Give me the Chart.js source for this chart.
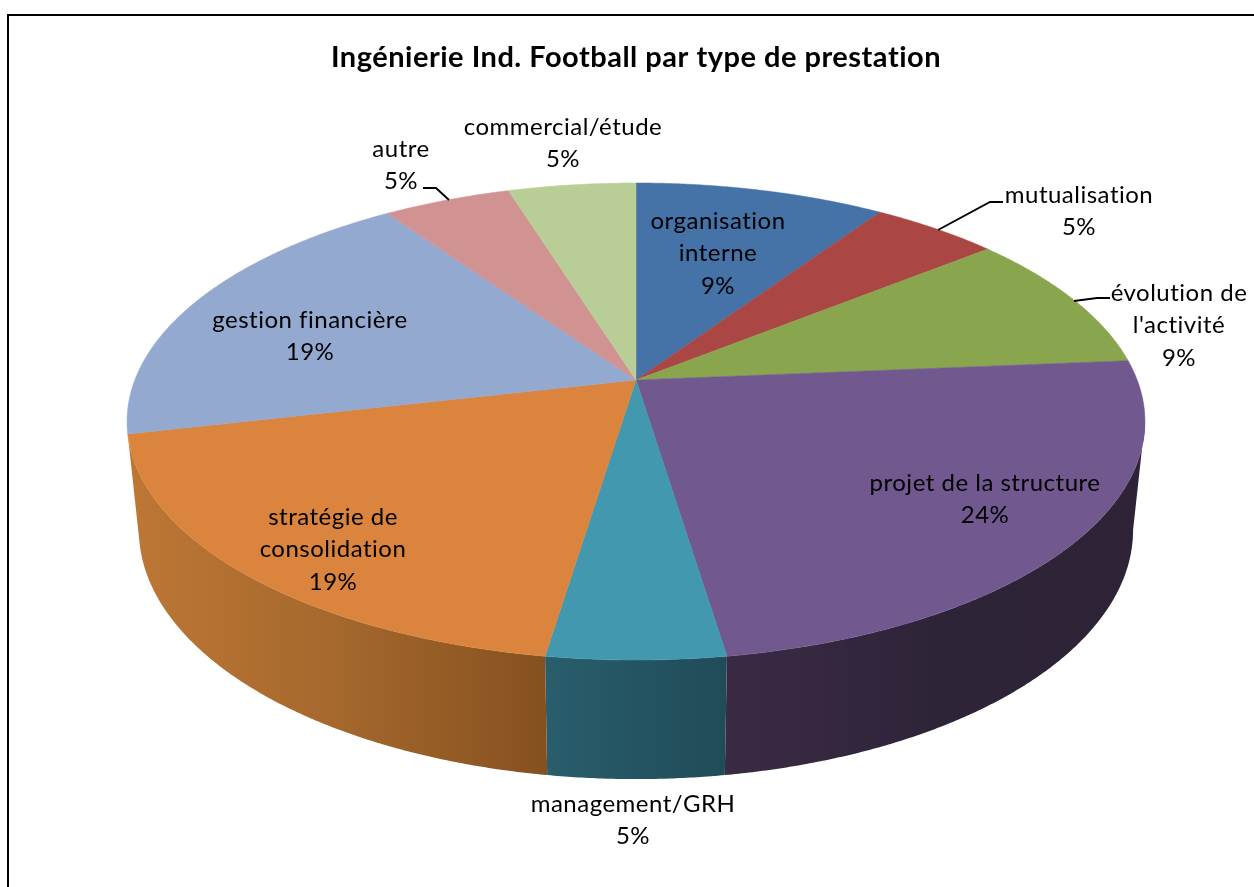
<!DOCTYPE html>
<html lang="fr">
<head>
<meta charset="utf-8">
<title>Ingénierie Ind. Football par type de prestation</title>
<style>html,body{margin:0;padding:0;background:#fff}canvas{display:block}</style>
<script src="https://cdn.jsdelivr.net/npm/chart.js@4/dist/chart.umd.js"></script>
</head>
<body>
<canvas id="c" width="1254" height="887"></canvas>
<script>
// ---- data ----
const titleText = "Ingénierie Ind. Football par type de prestation";
const categories = ["organisation interne", "mutualisation", "évolution de l'activité", "projet de la structure", "management/GRH", "stratégie de consolidation", "gestion financière", "autre", "commercial/étude"];
const shares = [9.4, 4.8, 9.45, 23.95, 4.8, 19, 19, 4.8, 4.8];

// ---- styles ----
const topColors = ["#4572A7", "#AA4643", "#89A54E", "#71588F", "#4198AF", "#DB843D", "#93A9CF", "#D19392", "#B9CD96"];
const wallColors = [null, null, null, ["#3A2B44", "#2E2438", "#2D2236"], ["#2A5E6C", "#245462", "#214B58"], ["#BD7735", "#A5682D", "#85501F"], null, null, null];
const FONT = '24px Lato';
const labelLines = [["organisation", "interne"], ["mutualisation"], ["évolution de", "l'activité"], ["projet de la structure"], ["management/GRH"], ["stratégie de", "consolidation"], ["gestion financière"], ["autre"], ["commercial/étude"]];
const labelAnchors = [[718, 221], [1079, 195], [1179, 293], [985, 483], [633, 804], [333, 517], [310, 320], [401, 149], [563, 127]];
const lineGap = 32.5;
const leaderLines = [[[423, 188], [436, 188], [449, 200]], [[1003, 202], [990, 202], [938, 230]], [[1110, 298], [1097, 298], [1074, 301]]];

// ---- perspective of the tilted disc ----
const P = 0.174;
const topFace = {cx: 636, cy: 380, a: 501.2, b: 231.3};
const floorFace = {cx: 636, cy: 486.7, a: 489.5, b: 241.5};
const nearFrom = Math.acos(-P), nearTo = 2 * Math.PI - nearFrom;
function project(face, theta) {
  const x = Math.sin(theta), y = -Math.cos(theta), w = 1 - P * y;
  return [face.cx + face.a * x / w, face.cy + face.b * y / w];
}
function arcPoints(face, t0, t1) {
  const n = Math.max(2, Math.ceil(Math.abs(t1 - t0) / 0.006)), pts = [];
  for (let i = 0; i <= n; i++) pts.push(project(face, t0 + (t1 - t0) * i / n));
  return pts;
}
function trace(ctx, pts) {
  ctx.beginPath();
  pts.forEach((p, i) => i ? ctx.lineTo(p[0], p[1]) : ctx.moveTo(p[0], p[1]));
  ctx.closePath();
}

const pie3d = {
  id: 'pie3d',
  beforeDraw(chart) {
    const ctx = chart.ctx;
    ctx.letterSpacing = '0.5px';
    ctx.save();
    ctx.fillStyle = '#fff';
    ctx.fillRect(0, 0, chart.width, chart.height);
    ctx.fillStyle = '#000';
    ctx.fillRect(7, 14, chart.width - 7, 2);
    ctx.fillRect(7, 14, 2, chart.height - 14);
    ctx.restore();
  },
  beforeDatasetDraw(chart, args) {
    const ctx = chart.ctx, arcs = args.meta.data;
    const turn = a => a + Math.PI / 2;
    ctx.save();
    // side walls, only on the near part of the disc
    arcs.forEach((arc, i) => {
      if (!wallColors[i]) return;
      const t0 = Math.max(turn(arc.startAngle), nearFrom);
      const t1 = Math.min(turn(arc.endAngle), nearTo);
      if (t1 <= t0) return;
      const all = arcPoints(topFace, t0, t1).concat(arcPoints(floorFace, t1, t0));
      const xs = all.map(p => p[0]);
      const g = ctx.createLinearGradient(Math.min(...xs), 0, Math.max(...xs), 0);
      wallColors[i].forEach((c, k, list) => g.addColorStop(k / (list.length - 1), c));
      trace(ctx, all);
      ctx.fillStyle = g;
      ctx.fill();
    });
    // top face
    arcs.forEach((arc, i) => {
      const pts = [[topFace.cx, topFace.cy]].concat(arcPoints(topFace, turn(arc.startAngle), turn(arc.endAngle)));
      trace(ctx, pts);
      ctx.fillStyle = topColors[i];
      ctx.strokeStyle = topColors[i];
      ctx.lineWidth = 0.5;
      ctx.fill();
      ctx.stroke();
    });
    ctx.restore();
    return false;
  },
  afterDatasetsDraw(chart) {
    const ctx = chart.ctx;
    ctx.save();
    ctx.strokeStyle = '#000';
    ctx.lineWidth = 1.8;
    leaderLines.forEach(l => {
      ctx.beginPath();
      l.forEach((p, i) => i ? ctx.lineTo(p[0], p[1]) : ctx.moveTo(p[0], p[1]));
      ctx.stroke();
    });
    ctx.fillStyle = '#000';
    ctx.font = FONT;
    ctx.textAlign = 'center';
    ctx.textBaseline = 'middle';
    const total = shares.reduce((s, v) => s + v, 0);
    categories.forEach((c, i) => {
      const lines = labelLines[i].concat(Math.round(shares[i] / total * 100) + '%');
      lines.forEach((t, k) => ctx.fillText(t, labelAnchors[i][0], labelAnchors[i][1] + k * lineGap));
    });
    ctx.restore();
  }
};

document.fonts.load(FONT).then(() => document.fonts.load('bold 29px Lato')).finally(() => {
  new Chart(document.getElementById('c'), {
    type: 'pie',
    data: {labels: categories, datasets: [{data: shares, backgroundColor: topColors, borderWidth: 0}]},
    plugins: [pie3d],
    options: {
      responsive: false,
      animation: false,
      events: [],
      layout: {padding: {left: 18, top: 0, right: 0, bottom: 0}},
      plugins: {
        legend: {display: false},
        tooltip: {enabled: false},
        title: {display: true, text: titleText, color: '#000', font: {family: 'Lato', size: 29, weight: 'bold'}, padding: {top: 40, bottom: 10}}
      }
    }
  });
});
</script>
</body>
</html>
